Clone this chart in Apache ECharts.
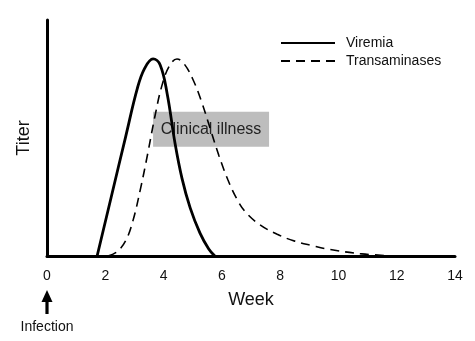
<!DOCTYPE html>
<html>
<head>
<meta charset="utf-8">
<script src="https://cdn.jsdelivr.net/npm/echarts@6/dist/echarts.min.js"></script>
<style>
  html, body { margin: 0; padding: 0; background: #fff; }
  #chart { width: 475px; height: 341px; }
</style>
</head>
<body>
<div id="chart"></div>
<script>
// Time course after infection (weeks) and relative titer (0-100)
const weekTicks = [0, 2, 4, 6, 8, 10, 12, 14];

const viremiaWeeks = [1.72, 2.2, 2.7, 3.1, 3.35, 3.64, 3.88, 4.12, 4.39, 4.63, 4.91, 5.25, 5.55, 5.76];
const viremiaTiter = [0, 24.8, 50.6, 71.0, 79.5, 83.5, 81.0, 69.0, 48.0, 33.0, 20.5, 9.7, 3.0, 0];

const transWeeks = [2.09, 2.4, 2.7, 2.95, 3.2, 3.45, 3.7, 3.95, 4.2, 4.46, 4.7, 5.0, 5.3, 5.6, 5.9, 6.2, 6.5, 6.8, 7.3, 7.9, 8.5, 9.1, 9.7, 10.8, 12.0];
const transTiter = [0, 1.8, 6.5, 15.0, 28.0, 43.0, 59.0, 72.5, 80.5, 83.5, 81.5, 75.0, 65.5, 54.0, 42.5, 32.5, 24.5, 18.8, 13.3, 9.2, 6.3, 4.4, 2.8, 0.9, 0];

// Period of clinical illness: week range and titer band for the shaded box
const illnessWeeks = [3.64, 7.62];
const illnessTiter = [46.3, 61.1];

const FONT = '"Liberation Sans", Arial, sans-serif';

const pairs = (xs, ys) => xs.map((x, i) => [x, ys[i]]);

const chart = echarts.init(document.getElementById('chart'), null, { renderer: 'canvas' });

chart.setOption({
  animation: false,
  backgroundColor: '#fff',
  textStyle: { fontFamily: FONT },
  grid: { left: 47, right: 20, top: 20, bottom: 85, containLabel: false },
  legend: {
    orient: 'vertical',
    left: 280,
    top: 36,
    padding: 0,
    itemWidth: 54,
    itemHeight: 14,
    itemGap: 4,
    itemStyle: { opacity: 0 },
    textStyle: { fontFamily: FONT, fontSize: 14, color: '#111', padding: [0, 0, 0, 6] },
    data: ['Viremia', 'Transaminases']
  },
  xAxis: {
    type: 'value',
    min: 0,
    max: 14,
    interval: 2,
    axisLine: { show: true, onZero: false, lineStyle: { color: '#000', width: 3 } },
    axisTick: { show: false },
    splitLine: { show: false },
    axisLabel: {
      fontFamily: FONT, fontSize: 14, color: '#111', margin: 13,
      formatter: v => (weekTicks.includes(v) ? String(v) : '')
    },
    name: 'Week',
    nameLocation: 'middle',
    nameGap: 35,
    nameTextStyle: { fontFamily: FONT, fontSize: 18, color: '#111' }
  },
  yAxis: {
    type: 'value',
    min: 0,
    max: 100,
    axisLine: { show: true, onZero: false, lineStyle: { color: '#000', width: 3 } },
    axisTick: { show: false },
    axisLabel: { show: false },
    splitLine: { show: false },
    name: 'Titer',
    nameLocation: 'middle',
    nameGap: 14,
    nameRotate: 90,
    nameTextStyle: { fontFamily: FONT, fontSize: 18, color: '#111' }
  },
  series: [
    {
      name: 'Viremia',
      type: 'line',
      data: pairs(viremiaWeeks, viremiaTiter),
      smooth: 0.4,
      symbol: 'none',
      color: '#000',
      lineStyle: { color: '#000', width: 2.8, type: 'solid' },
      z: 3,
      markArea: {
        silent: true,
        z: 1,
        itemStyle: { color: '#bdbdbd' },
        label: {
          show: true,
          position: 'inside',
          formatter: 'Clinical illness',
          fontFamily: FONT,
          fontSize: 16,
          color: '#222'
        },
        data: [[
          { xAxis: illnessWeeks[0], yAxis: illnessTiter[0] },
          { xAxis: illnessWeeks[1], yAxis: illnessTiter[1] }
        ]]
      }
    },
    {
      name: 'Transaminases',
      type: 'line',
      data: pairs(transWeeks, transTiter),
      smooth: 0.4,
      symbol: 'none',
      color: '#000',
      lineStyle: { color: '#000', width: 1.6, type: [9, 6] },
      z: 3
    }
  ]
});

// Arrow marking the moment of infection under week 0
const [x0] = chart.convertToPixel({ gridIndex: 0 }, [0, 0]);
chart.setOption({
  graphic: [
    {
      type: 'group',
      x: x0,
      y: 0,
      children: [
        { type: 'polygon', shape: { points: [[0, 290], [-5.5, 302], [5.5, 302]] }, style: { fill: '#000' } },
        { type: 'rect', shape: { x: -1.6, y: 300, width: 3.2, height: 14 }, style: { fill: '#000' } },
        {
          type: 'text',
          x: 0,
          y: 327,
          style: {
            text: 'Infection',
            font: '14px ' + FONT,
            fill: '#111',
            align: 'center',
            verticalAlign: 'middle'
          }
        }
      ]
    }
  ]
});
</script>
</body>
</html>
